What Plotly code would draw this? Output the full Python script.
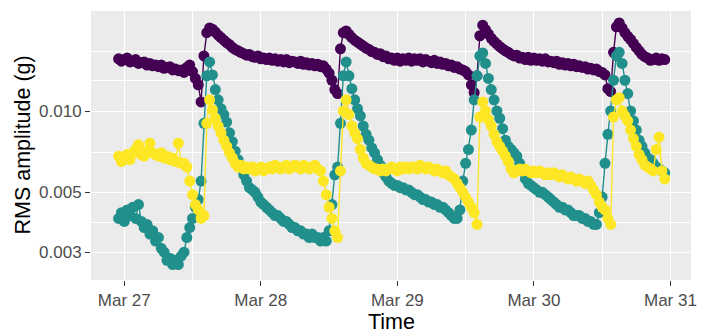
import pandas as pd
import plotly.graph_objects as go

# half-hourly samples starting Mar 26 23:00
start_time = "2020-03-26 23:00"

purple = [
    .0156,.0153,.0155,.0157,.0152,.0153,.0155,.0150,.0151,.0152,
    .0148,.0150,.0147,.0148,.0146,.0148,.0144,.0145,.0146,.0142,
    .0143,.0141,.0142,.0139,.0145,.0148,.0140,.0132,.0125,.0108,
    .0160,.0195,.0203,.0201,.0196,.0191,.0187,.0183,.0179,.0176,
    .0172,.0169,.0167,.0165,.0163,.0161,.0162,.0159,.0158,.0160,
    .0156,.0157,.0155,.0157,.0154,.0156,.0153,.0155,.0152,.0155,
    .0151,.0153,.0152,.0150,.0153,.0149,.0151,.0148,.0150,.0147,
    .0149,.0146,.0147,.0143,.0138,.0130,.0120,.0116,.0170,.0195,
    .0198,.0192,.0187,.0183,.0180,.0177,.0174,.0171,.0169,.0166,
    .0165,.0162,.0163,.0159,.0160,.0156,.0157,.0154,.0157,.0153,
    .0156,.0154,.0157,.0153,.0156,.0154,.0156,.0152,.0155,.0153,
    .0151,.0154,.0150,.0152,.0149,.0150,.0147,.0148,.0145,.0146,
    .0143,.0142,.0140,.0136,.0125,.0117,.0135,.0190,.0208,.0200,
    .0193,.0186,.0181,.0177,.0173,.0170,.0167,.0165,.0162,.0160,
    .0161,.0157,.0158,.0155,.0158,.0154,.0157,.0154,.0156,.0153,
    .0156,.0152,.0153,.0151,.0153,.0149,.0151,.0148,.0150,.0147,
    .0149,.0146,.0147,.0145,.0146,.0143,.0144,.0142,.0143,.0140,
    .0139,.0136,.0121,.0118,.0165,.0205,.0212,.0203,.0195,.0189,
    .0184,.0178,.0172,.0167,.0162,.0159,.0157,.0154,.0155,.0157,
    .0154,.0156,.0155,
]

teal = [
    .0040,.0042,.0039,.0043,.0041,.0044,.0040,.0045,.0039,.0037,
    .0038,.0035,.0036,.0033,.0034,.0031,.0030,.0028,.00285,.0027,
    .0028,.0027,.0029,.0030,.0034,.0037,.0040,.0044,.0047,.0055,
    .0090,.0135,.0152,.0136,.0120,.0110,.0102,.0097,.0091,.0083,
    .0077,.0071,.0066,.0062,.0058,.0055,.0052,.0051,.0050,.0048,
    .0046,.0045,.0044,.0043,.0042,.0041,.0041,.0040,.0039,.0039,
    .0038,.0037,.0037,.0036,.0036,.0035,.0035,.0034,.0035,.0034,
    .0034,.0033,.0034,.0033,.0036,.0045,.0058,.0062,.0090,.0135,
    .0152,.0135,.0121,.0110,.0102,.0096,.0088,.0082,.0078,.0073,
    .0070,.0066,.0063,.0059,.0057,.0055,.0054,.0053,.0053,.0052,
    .0052,.0051,.0051,.0050,.0049,.0049,.0048,.0047,.0047,.0046,
    .0046,.0045,.0045,.0044,.0044,.0043,.0042,.0041,.0040,.0040,
    .0043,.0055,.0064,.0072,.0085,.0110,.0135,.0160,.0164,.0150,
    .0132,.0120,.0110,.0100,.0094,.0086,.0078,.0074,.0072,.0070,
    .0068,.0064,.0060,.0056,.0054,.0053,.0052,.0051,.0050,.0050,
    .0049,.0048,.0047,.0046,.0045,.0044,.0044,.0043,.0043,.0042,
    .0041,.0041,.0041,.0040,.0040,.0039,.0039,.0038,.0038,.0042,
    .0048,.0064,.0082,.0100,.0130,.0160,.0165,.0150,.0130,.0116,
    .0100,.0092,.0085,.0078,.0074,.0070,.0067,.0066,.0064,.0062,
    .0061,.0060,.0059,
]

yellow = [
    .0068,.0065,.0067,.0069,.0066,.0070,.0072,.0075,.0069,.0068,
    .0071,.0076,.0070,.0069,.0068,.0070,.0067,.0068,.0066,.0067,
    .0065,.0076,.0064,.0064,.0062,.0055,.0049,.0045,.0043,.0040,
    .0041,.0090,.0110,.0101,.0094,.0088,.0083,.0078,.0074,.0070,
    .0067,.0064,.0062,.0063,.0061,.0062,.0061,.0062,.0060,.0061,
    .0062,.0060,.0061,.0062,.0061,.0063,.0062,.0061,.0062,.0063,
    .0061,.0062,.0063,.0062,.0061,.0063,.0062,.0061,.0062,.0063,
    .0061,.0060,.0055,.0049,.0044,.0040,.0036,.0034,.0060,.0100,
    .0110,.0097,.0088,.0083,.0079,.0072,.0067,.0064,.0063,.0062,
    .0061,.0061,.0060,.0061,.0060,.0061,.0062,.0061,.0060,.0062,
    .0061,.0062,.0061,.0062,.0062,.0061,.0063,.0062,.0061,.0062,
    .0061,.0060,.0061,.0060,.0059,.0060,.0058,.0057,.0056,.0054,
    .0052,.0050,.0048,.0046,.0044,.0042,.0038,.0095,.0108,.0100,
    .0093,.0088,.0082,.0077,.0074,.0071,.0068,.0065,.0061,.0059,
    .0060,.0061,.0060,.0061,.0060,.0059,.0060,.0059,.0060,.0059,
    .0058,.0059,.0058,.0059,.0058,.0057,.0058,.0057,.0056,.0057,
    .0056,.0055,.0056,.0055,.0054,.0055,.0053,.0051,.0049,.0046,
    .0044,.0043,.0040,.0038,.0095,.0110,.0112,.0100,.0096,.0092,
    .0085,.0079,.0074,.0069,.0066,.0063,.0062,.0061,.0060,.0072,
    .0080,.0060,.0056,
]

series_names = ["A", "B", "C"]
series_colors = ["#440154", "#21908C", "#FDE725"]

x_tick_vals = ["2020-03-27", "2020-03-28", "2020-03-29", "2020-03-30", "2020-03-31"]
x_tick_text = ["Mar 27", "Mar 28", "Mar 29", "Mar 30", "Mar 31"]
x_minor_vals = ["2020-03-27 12:00", "2020-03-28 12:00", "2020-03-29 12:00", "2020-03-30 12:00"]
y_tick_vals = [0.003, 0.005, 0.010]
y_tick_text = ["0.003", "0.005", "0.010"]
y_minor_vals = [0.00388, 0.007047, 0.01292, 0.01668]

FONT = "Liberation Sans, Arial, sans-serif"

fig = go.Figure()
for name, vals, col in zip(series_names, [purple, teal, yellow], series_colors):
    t = pd.date_range(start_time, periods=len(vals), freq="30min")
    fig.add_trace(go.Scatter(
        x=t, y=vals, mode="lines+markers", name=name,
        line=dict(color=col, width=1.4),
        marker=dict(color=col, size=11, line=dict(width=0)),
        showlegend=False,
    ))

fig.update_layout(
    width=701, height=336,
    margin=dict(l=91, r=4, t=11, b=56),
    paper_bgcolor="white",
    plot_bgcolor="#EBEBEB",
    font=dict(family=FONT),
    xaxis=dict(
        type="date",
        range=["2020-03-26 18:09", "2020-03-31 03:37"],
        tickvals=x_tick_vals, ticktext=x_tick_text,
        ticks="outside", ticklen=5, tickwidth=1.4, tickcolor="#333333",
        tickfont=dict(size=17, color="#4D4D4D", family=FONT),
        ticklabeloverflow="allow",
        showgrid=True, gridcolor="white", gridwidth=1.4,
        minor=dict(tickvals=x_minor_vals, showgrid=True, gridcolor="white",
                   gridwidth=0.9, ticks=""),
        zeroline=False, showline=False,
    ),
    yaxis=dict(
        type="log",
        range=[-2.626, -1.6296],
        tickvals=y_tick_vals, ticktext=y_tick_text,
        ticks="outside", ticklen=5, tickwidth=1.4, tickcolor="#333333",
        tickfont=dict(size=17, color="#4D4D4D", family=FONT),
        showgrid=True, gridcolor="white", gridwidth=1.4,
        minor=dict(tickvals=y_minor_vals, showgrid=True, gridcolor="white",
                   gridwidth=0.9, ticks=""),
        zeroline=False, showline=False,
    ),
    annotations=[
        dict(text="RMS amplitude (g)", xref="paper", yref="paper", x=0, y=0.5,
             xanchor="center", yanchor="middle", xshift=-69, textangle=-90,
             showarrow=False, font=dict(size=21.5, color="black", family=FONT)),
        dict(text="Time", xref="paper", yref="paper", x=0.5, y=0,
             xanchor="center", yanchor="middle", yshift=-42,
             showarrow=False, font=dict(size=21.5, color="black", family=FONT)),
    ],
)

fig.write_html("out.html")
